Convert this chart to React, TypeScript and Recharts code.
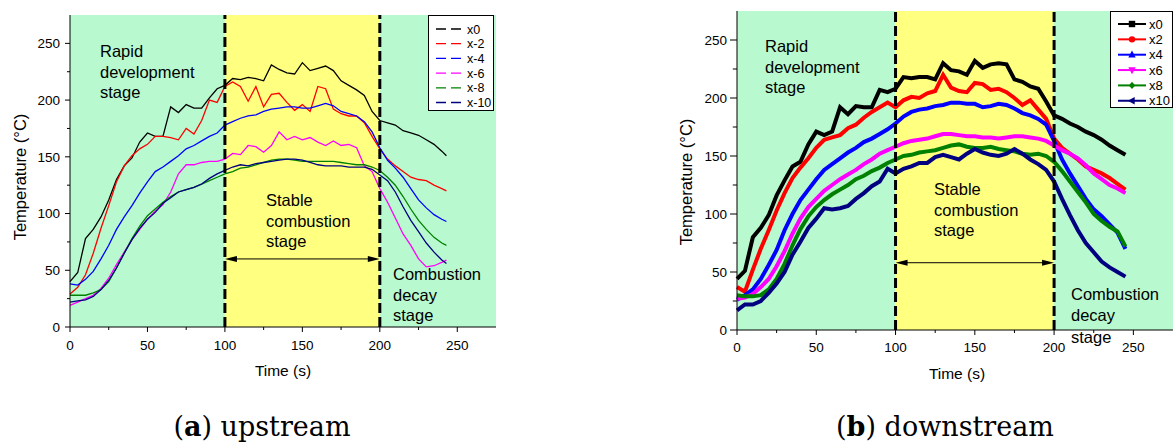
import { LineChart, Line, XAxis, YAxis, ReferenceArea, ReferenceLine } from 'recharts'

// time axis (s)
const upTime = [0, 5, 10, 15, 20, 25, 30, 35, 40, 45, 50, 55, 60, 65, 70, 75, 80, 85, 90, 95, 100, 105, 110, 115, 120, 125, 130, 135, 140, 145, 150, 155, 160, 165, 170, 175, 180, 185, 190, 195, 200, 205, 210, 215, 220, 225, 230, 235, 240, 243]
const downTime = [0, 5, 10, 15, 20, 25, 30, 35, 40, 45, 50, 55, 60, 65, 70, 75, 80, 85, 90, 95, 100, 105, 110, 115, 120, 125, 130, 135, 140, 145, 150, 155, 160, 165, 170, 175, 180, 185, 190, 195, 200, 205, 210, 215, 220, 225, 230, 235, 240, 245]

// (a) upstream temperatures (°C)
const upX0 = [40, 48, 78, 86, 97, 112, 130, 142, 149, 163, 171, 168, 168, 194, 189, 196, 193, 193, 202, 210, 213, 219, 218, 220, 219, 217, 231, 227, 224, 223, 233, 226, 228, 230, 226, 217, 213, 209, 204, 190, 182, 180, 178, 173, 171, 169, 165, 161, 155, 151]
const upX2 = [29, 35, 46, 65, 87, 107, 128, 142, 151, 157, 161, 168, 168, 167, 165, 175, 170, 182, 200, 198, 212, 216, 212, 199, 212, 194, 205, 206, 198, 191, 196, 190, 212, 210, 192, 188, 186, 186, 180, 168, 157, 148, 142, 137, 132, 130, 129, 125, 122, 120]
const upX4 = [38, 37, 42, 49, 60, 72, 86, 97, 107, 118, 128, 137, 141, 146, 151, 157, 160, 164, 168, 171, 178, 181, 184, 186, 187, 190, 192, 193, 194, 194, 193, 193, 195, 197, 195, 190, 188, 186, 181, 172, 158, 147, 140, 132, 122, 112, 105, 99, 95, 93]
const upX6 = [19, 22, 25, 28, 34, 43, 55, 66, 77, 86, 95, 102, 108, 119, 135, 143, 143, 145, 146, 146, 148, 153, 152, 160, 159, 154, 160, 172, 165, 168, 165, 167, 163, 160, 164, 160, 161, 158, 142, 137, 122, 110, 96, 82, 72, 60, 53, 54, 57, 59]
const upX8 = [28, 28, 28, 30, 33, 40, 52, 65, 78, 89, 98, 104, 110, 115, 119, 121, 123, 126, 129, 132, 135, 137, 140, 141, 143, 145, 147, 148, 148, 147, 146, 146, 146, 146, 146, 145, 144, 143, 143, 141, 138, 132, 125, 115, 104, 94, 86, 79, 74, 72]
const upX10 = [22, 23, 24, 27, 33, 41, 52, 65, 77, 87, 95, 101, 109, 114, 119, 121, 123, 126, 131, 135, 138, 141, 143, 142, 144, 145, 146, 147, 148, 148, 147, 145, 143, 142, 142, 142, 141, 141, 141, 139, 134, 129, 119, 106, 94, 84, 74, 66, 59, 56]

// (b) downstream temperatures (°C)
const downX0 = [44, 51, 80, 88, 99, 116, 129, 141, 145, 160, 171, 168, 171, 192, 186, 193, 192, 192, 207, 205, 208, 218, 217, 218, 218, 216, 230, 224, 223, 220, 232, 226, 229, 230, 229, 216, 214, 210, 208, 197, 185, 182, 178, 175, 171, 168, 164, 159, 155, 151]
const downX2 = [37, 33, 52, 70, 86, 103, 118, 131, 140, 148, 157, 164, 166, 168, 174, 177, 183, 188, 192, 196, 192, 198, 201, 200, 204, 206, 220, 209, 206, 205, 213, 212, 207, 208, 205, 200, 194, 198, 190, 182, 165, 157, 152, 147, 141, 138, 135, 131, 126, 121]
const downX4 = [26, 30, 35, 44, 56, 69, 86, 100, 112, 121, 130, 138, 143, 148, 153, 157, 162, 165, 169, 173, 178, 184, 188, 190, 191, 193, 194, 196, 196, 195, 195, 192, 193, 195, 194, 191, 187, 185, 182, 177, 163, 147, 135, 124, 113, 104, 98, 91, 84, 70]
const downX6 = [27, 28, 31, 37, 44, 55, 68, 83, 96, 106, 113, 120, 125, 130, 134, 138, 143, 147, 152, 155, 158, 161, 163, 164, 165, 167, 169, 169, 168, 167, 167, 166, 166, 165, 166, 167, 167, 166, 165, 163, 159, 155, 152, 148, 142, 135, 130, 125, 122, 118]
const downX8 = [30, 29, 29, 30, 35, 44, 57, 73, 87, 98, 106, 112, 117, 121, 125, 130, 133, 137, 140, 144, 147, 150, 151, 153, 154, 155, 157, 159, 160, 158, 157, 157, 158, 156, 155, 154, 152, 151, 152, 150, 145, 137, 128, 119, 110, 100, 94, 89, 85, 72]
const downX10 = [17, 22, 22, 25, 32, 40, 50, 65, 76, 88, 96, 105, 104, 105, 107, 113, 118, 124, 128, 139, 135, 139, 141, 144, 144, 149, 151, 149, 147, 152, 156, 153, 151, 150, 152, 156, 152, 147, 143, 138, 128, 113, 99, 86, 75, 67, 59, 54, 50, 46]

const upNames = ['x0', 'x-2', 'x-4', 'x-6', 'x-8', 'x-10']
const downNames = ['x0', 'x2', 'x4', 'x6', 'x8', 'x10']
const colors = ['#000000', '#ff0000', '#0000ff', '#ff00ff', '#008000', '#000080']
const markers = ['square', 'circle', 'up', 'down', 'diamond', 'left']

const xTicks = [0, 25, 50, 75, 100, 125, 150, 175, 200, 225, 250]
const yTicks = [0, 25, 50, 75, 100, 125, 150, 175, 200, 225, 250]

const GREEN = '#b8f9cf'
const YELLOW = '#ffff80'
const SANS = 'Liberation Sans, Arial, sans-serif'

const makeTick = (side: string, len: number, gap: number) => (props: any) => {
  const { x, y, payload } = props
  const v = payload.value
  const major = v % 50 === 0
  const l = major ? len : len * 0.6
  if (side === 'bottom') {
    return (
      <g>
        <line x1={x} y1={y} x2={x} y2={y + l} stroke="#000" />
        {major && <text x={x} y={y + gap} textAnchor="middle" fontFamily={SANS} fontSize={13.5} fill="#000">{v}</text>}
      </g>
    )
  }
  if (side === 'left') {
    return (
      <g>
        <line x1={x - l} y1={y} x2={x} y2={y} stroke="#000" />
        {major && <text x={x - gap} y={y} dy="0.36em" textAnchor="end" fontFamily={SANS} fontSize={13.5} fill="#000">{v}</text>}
      </g>
    )
  }
  if (side === 'top') return <line x1={x} y1={y} x2={x} y2={y + l} stroke="#444" />
  return <line x1={x - l} y1={y} x2={x} y2={y} stroke="#444" />
}

const Arrow = (p: any) => {
  const { x1, y1, x2 } = p
  return (
    <g>
      <line x1={x1 + 8} y1={y1} x2={x2 - 8} y2={y1} stroke="#000" strokeWidth={1} />
      <polygon points={`${x1},${y1} ${x1 + 12},${y1 - 3} ${x1 + 12},${y1 + 3}`} fill="#000" />
      <polygon points={`${x2},${y1} ${x2 - 12},${y1 - 3} ${x2 - 12},${y1 + 3}`} fill="#000" />
    </g>
  )
}

interface PanelProps {
  left: number
  width: number
  margin: { top: number; right: number; bottom: number; left: number }
  time: number[]
  values: number[][]
  lineWidth: number
  arrowY: number
  tickLen: number
  labelGap: number
}

const Panel = ({ left, width, margin, time, values, lineWidth, arrowY, tickLen, labelGap }: PanelProps) => {
  const rows = time.map((t, i) => {
    const r: any = { t }
    values.forEach((vals, k) => { r['s' + k] = vals[i] })
    return r
  })
  return (
    <div style={{ position: 'absolute', left, top: 0 }}>
      <LineChart width={width} height={400} data={rows} margin={margin}>
        <ReferenceArea x1={0} x2={100} fill={GREEN} fillOpacity={1} stroke="none" />
        <ReferenceArea x1={100} x2={200} fill={YELLOW} fillOpacity={1} stroke="none" />
        <ReferenceArea x1={200} x2={275} fill={GREEN} fillOpacity={1} stroke="none" />
        <XAxis dataKey="t" type="number" domain={[0, 275]} ticks={xTicks} tick={makeTick('bottom', 5, labelGap)}
          tickLine={false} tickSize={0} tickMargin={0} height={30} axisLine={{ stroke: '#000' }} interval={0} />
        <XAxis xAxisId="top" dataKey="t" orientation="top" type="number" domain={[0, 275]} ticks={xTicks}
          tick={makeTick('top', 5, 0)} tickLine={false} tickSize={0} tickMargin={0} height={0} axisLine={{ stroke: '#555' }} interval={0} />
        <YAxis type="number" domain={[0, 275]} ticks={yTicks} tick={makeTick('left', tickLen, 10)}
          tickLine={false} tickSize={0} tickMargin={0} width={70} axisLine={{ stroke: '#000' }} interval={0} />
        <YAxis yAxisId="right" orientation="right" type="number" domain={[0, 275]} ticks={yTicks}
          tick={makeTick('right', 5, 0)} tickLine={false} tickSize={0} tickMargin={0} width={0} axisLine={{ stroke: '#555' }} interval={0} />
        {values.map((_, k) => (
          <Line key={k} dataKey={'s' + k} type="linear" stroke={colors[k]} strokeWidth={lineWidth}
            dot={false} isAnimationActive={false} />
        ))}
        <ReferenceLine x={100} stroke="#000" strokeWidth={3} strokeDasharray="10 4" />
        <ReferenceLine x={200} stroke="#000" strokeWidth={3} strokeDasharray="10 4" />
        <ReferenceLine segment={[{ x: 100, y: arrowY }, { x: 200, y: arrowY }]} shape={Arrow} />
      </LineChart>
    </div>
  )
}

const Marker = ({ type, x, y, color }: { type: string; x: number; y: number; color: string }) => {
  const s = 3.2
  if (type === 'square') return <rect x={x - s} y={y - s} width={2 * s} height={2 * s} fill={color} />
  if (type === 'circle') return <circle cx={x} cy={y} r={s} fill={color} />
  if (type === 'up') return <polygon points={`${x},${y - s - 1} ${x - s - 0.5},${y + s - 0.5} ${x + s + 0.5},${y + s - 0.5}`} fill={color} />
  if (type === 'down') return <polygon points={`${x},${y + s + 1} ${x - s - 0.5},${y - s + 0.5} ${x + s + 0.5},${y - s + 0.5}`} fill={color} />
  if (type === 'diamond') return <polygon points={`${x},${y - s - 0.5} ${x + s},${y} ${x},${y + s + 0.5} ${x - s},${y}`} fill={color} />
  return <polygon points={`${x - s - 1},${y} ${x + s - 0.5},${y - s - 0.5} ${x + s - 0.5},${y + s + 0.5}`} fill={color} />
}

const TextBlock = ({ x, y, lines, size = 16.5 }: { x: number; y: number; lines: string[]; size?: number }) => (
  <text x={x} y={y} fontFamily={SANS} fontSize={size} fill="#000">
    {lines.map((l, i) => (
      <tspan key={i} x={x} dy={i === 0 ? 0 : 20.5}>{l}</tspan>
    ))}
  </text>
)

const Overlay = () => (
  <svg width={1174} height={448} style={{ position: 'absolute', left: 0, top: 0, pointerEvents: 'none' }}>
    {/* legend (a) */}
    <rect x={428.5} y={15.5} width={65} height={95} fill="#fff" stroke="#000" />
    {upNames.map((n, i) => {
      const y = 29 + i * 14.7
      return (
        <g key={n}>
          <line x1={436} y1={y} x2={461} y2={y} stroke={colors[i]} strokeWidth={1.3} strokeDasharray="10 5" />
          <text x={467} y={y} dy="0.36em" fontFamily={SANS} fontSize={12.5} fill="#000">{n}</text>
        </g>
      )
    })}
    {/* legend (b) */}
    <rect x={1110.5} y={11.5} width={62} height={96} fill="#fff" stroke="#000" />
    {downNames.map((n, i) => {
      const y = 24 + i * 15.35
      return (
        <g key={n}>
          <line x1={1118} y1={y} x2={1146} y2={y} stroke={colors[i]} strokeWidth={2} />
          <Marker type={markers[i]} x={1132} y={y} color={colors[i]} />
          <text x={1149} y={y} dy="0.36em" fontFamily={SANS} fontSize={13} fill="#000">{n}</text>
        </g>
      )
    })}

    <TextBlock x={100} y={57} lines={['Rapid', 'development', 'stage']} />
    <TextBlock x={266} y={206} lines={['Stable', 'combustion', 'stage']} />
    <TextBlock x={393} y={280} lines={['Combustion', 'decay', 'stage']} />
    <TextBlock x={765} y={52} lines={['Rapid', 'development', 'stage']} />
    <TextBlock x={934} y={195} lines={['Stable', 'combustion', 'stage']} />
    <TextBlock x={1071} y={300} lines={['Combustion', 'decay']} />
    <TextBlock x={1071} y={343} lines={['stage']} />

    <text x={20} y={177} transform="rotate(-90 20 177)" textAnchor="middle" dy="0.36em" fontFamily={SANS} fontSize={16.5} fill="#000">Temperature (°C)</text>
    <text x={686} y={182} transform="rotate(-90 686 182)" textAnchor="middle" dy="0.36em" fontFamily={SANS} fontSize={16.5} fill="#000">Temperature (°C)</text>
    <text x={283} y={376} textAnchor="middle" fontFamily={SANS} fontSize={15.5} fill="#000">Time (s)</text>
    <text x={957} y={379} textAnchor="middle" fontFamily={SANS} fontSize={15.5} fill="#000">Time (s)</text>

    <text x={262} y={436} textAnchor="middle" fontFamily="DejaVu Serif, serif" fontSize={27} fill="#000">
      (<tspan fontWeight="bold">a</tspan>) upstream
    </text>
    <text x={945} y={436} textAnchor="middle" fontFamily="DejaVu Serif, serif" fontSize={27} fill="#000">
      (<tspan fontWeight="bold">b</tspan>) downstream
    </text>
  </svg>
)

export default function App() {
  return (
    <div style={{ position: 'absolute', left: 0, top: 0, width: 1174, height: 448, background: '#fff' }}>
      <Panel left={0} width={500} margin={{ top: 15, right: 4, bottom: 43, left: 0 }} time={upTime}
        values={[upX0, upX2, upX4, upX6, upX8, upX10]} lineWidth={1.3} arrowY={60} tickLen={5} labelGap={23} />
      <Panel left={667} width={507} margin={{ top: 11, right: 1, bottom: 40, left: 0 }} time={downTime}
        values={[downX0, downX2, downX4, downX6, downX8, downX10]} lineWidth={4} arrowY={58} tickLen={7} labelGap={22} />
      <Overlay />
    </div>
  )
}
